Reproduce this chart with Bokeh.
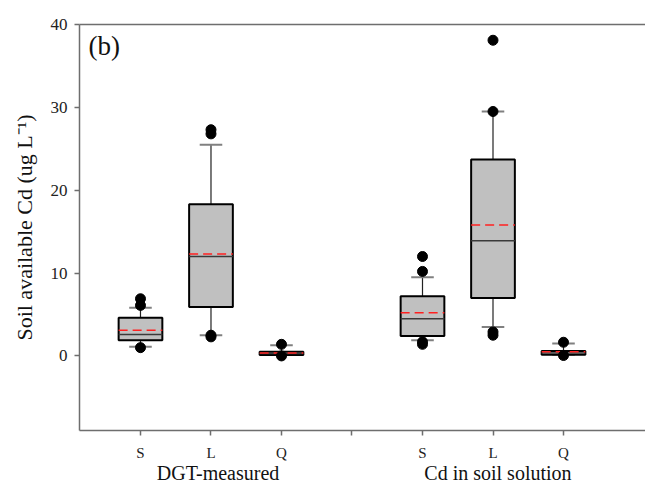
from bokeh.plotting import figure
from bokeh.models import Range1d, FixedTicker, LinearAxis, Label, ColumnDataSource
from bokeh.transform import dodge
from bokeh.embed import file_html
from bokeh.resources import INLINE

# ---- data ----
positions = [1, 2, 3, 5, 6, 7]
tick_labels = {1: "S", 2: "L", 3: "Q", 4: "", 5: "S", 6: "L", 7: "Q"}
q1 = [1.9, 5.9, 0.1, 2.4, 7.0, 0.15]
q3 = [4.6, 18.3, 0.5, 7.2, 23.7, 0.6]
median = [2.6, 12.0, 0.3, 4.5, 13.9, 0.35]
mean = [3.1, 12.3, 0.35, 5.2, 15.8, 0.5]
whisker_lo = [1.1, 2.5, 0.1, 1.9, 3.5, 0.15]
whisker_hi = [5.8, 25.5, 1.3, 9.5, 29.5, 1.5]
outlier_x = [1, 1, 1, 2, 2, 2, 2, 3, 3, 5, 5, 5, 5, 6, 6, 6, 6, 7, 7]
outlier_y = [6.9, 6.1, 1.0, 27.3, 26.8, 2.5, 2.3, 1.4, 0.0,
             12.0, 10.2, 1.7, 1.4, 38.1, 29.5, 2.9, 2.5, 1.65, 0.05]
group_labels = ["DGT-measured", "Cd in soil solution"]
group_x = [2.1, 6.07]
y_title = "Soil available Cd (ug L\u207b\u00b9)"

FONT = "Liberation Serif"

p = figure(width=645, height=486, output_backend="svg", toolbar_location=None,
           x_range=Range1d(0.135, 8.163), y_range=Range1d(-9, 40),
           min_border_left=79, min_border_right=0, min_border_top=24,
           min_border_bottom=50)
p.outline_line_color = None
p.xgrid.visible = False
p.ygrid.visible = False

AX = "#6e6e6e"
for ax in (p.xaxis[0], p.yaxis[0]):
    ax.axis_line_color = AX
    ax.axis_line_width = 1.5
    ax.major_tick_line_color = AX
    ax.major_tick_line_width = 1.5
    ax.major_tick_in = 0
    ax.major_tick_out = 5
    ax.minor_tick_line_color = None
    ax.major_label_text_font = FONT
    ax.major_label_text_color = "#222222"

p.xaxis.ticker = FixedTicker(ticks=[1, 2, 3, 4, 5, 6, 7])
p.xaxis.major_label_overrides = tick_labels
p.xaxis.major_label_text_font_size = "15px"
p.xaxis.major_label_standoff = 9
p.yaxis.ticker = FixedTicker(ticks=[0, 10, 20, 30, 40])
p.yaxis.major_label_text_font_size = "17px"
p.yaxis.major_label_standoff = 7
p.yaxis.axis_label = y_title
p.yaxis.axis_label_text_font = FONT
p.yaxis.axis_label_text_font_size = "22px"
p.yaxis.axis_label_text_font_style = "normal"
p.yaxis.axis_label_text_color = "#111111"
p.yaxis.axis_label_standoff = 11

# group labels as a second, line-less axis below
grp = LinearAxis(ticker=FixedTicker(ticks=group_x),
                 major_label_overrides={gx: gl for gx, gl in zip(group_x, group_labels)},
                 axis_line_color=None, major_tick_line_color=None, minor_tick_line_color=None,
                 major_tick_out=0, major_tick_in=0, major_label_standoff=-2,
                 major_label_text_font=FONT, major_label_text_font_size="20px",
                 major_label_text_color="#111111")
p.add_layout(grp, "below")

top = LinearAxis(ticker=FixedTicker(ticks=[]), axis_line_color=AX, axis_line_width=1.5,
                 major_tick_line_color=None, minor_tick_line_color=None,
                 major_label_text_font_size="0px", major_tick_out=0, major_label_standoff=0)
p.add_layout(top, "above")

src = ColumnDataSource(dict(x=positions, q1=q1, q3=q3, med=median, mean=mean,
                            lo=whisker_lo, hi=whisker_hi))

BW = 0.62
CW = 0.32
# whiskers
p.segment(x0="x", y0="q3", x1="x", y1="hi", source=src, line_color="#222222", line_width=1.2)
p.segment(x0="x", y0="lo", x1="x", y1="q1", source=src, line_color="#222222", line_width=1.2)
# caps
p.segment(x0=dodge("x", -CW / 2), y0="hi", x1=dodge("x", CW / 2), y1="hi",
          source=src, line_color="#808080", line_width=2)
p.segment(x0=dodge("x", -CW / 2), y0="lo", x1=dodge("x", CW / 2), y1="lo",
          source=src, line_color="#808080", line_width=2)
# boxes
p.vbar(x="x", bottom="q1", top="q3", width=BW, source=src,
       fill_color="#c0c0c0", line_color="black", line_width=2)
# median
p.segment(x0=dodge("x", -BW / 2), y0="med", x1=dodge("x", BW / 2), y1="med",
          source=src, line_color="#3a3a3a", line_width=1.5)
# mean
p.segment(x0=dodge("x", -BW / 2), y0="mean", x1=dodge("x", BW / 2), y1="mean",
          source=src, line_color="#ff2020", line_width=1.5, line_dash="9 5")
# outliers
p.scatter(outlier_x, outlier_y, size=10, color="black")

p.add_layout(Label(x=9, y=370, x_units="screen", y_units="screen", text="(b)",
                   text_font=FONT, text_font_size="27px", text_color="#111111"))

open("out.html", "w").write(file_html(p, INLINE))
